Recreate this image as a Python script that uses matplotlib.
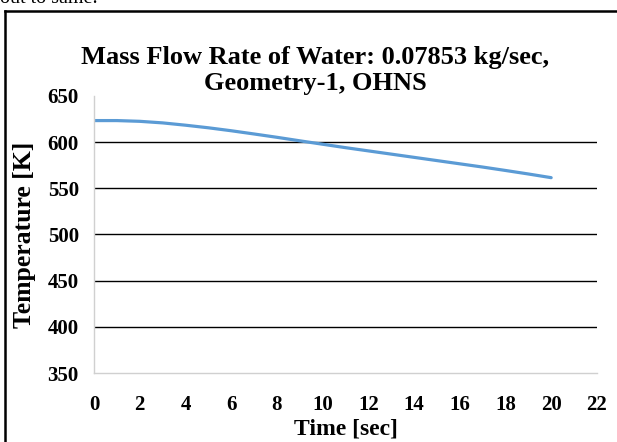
import matplotlib
matplotlib.use("Agg")
import matplotlib.pyplot as plt
from matplotlib.lines import Line2D

# data
time_sec = [0, 1, 2, 3, 4, 5, 6, 7, 8, 9, 10, 11, 12, 13, 14, 15, 16, 17, 18, 19, 20]
temp_k = [623.3, 623.3, 622.5, 620.8, 618.3, 615.5, 612.3, 608.8, 605.2, 601.4, 597.7,
          594.0, 590.5, 587.0, 583.5, 580.0, 576.5, 573.0, 569.3, 565.5, 561.5]
x_ticks = list(range(0, 23, 2))
y_ticks = list(range(350, 651, 50))


def main():
    plt.rcParams['font.family'] = ['Liberation Serif', 'DejaVu Serif']
    fig = plt.figure(figsize=(6.17, 4.42), dpi=100)
    ax = fig.add_axes([0.1524, 0.156, 0.815, 0.627])

    ax.plot(time_sec, temp_k, color='#5B9BD5', linewidth=2.3, solid_capstyle='round')

    ax.set_xlim(0, 22)
    ax.set_ylim(350, 650)
    ax.set_xticks(x_ticks)
    ax.set_yticks(y_ticks)
    for y in y_ticks[1:-1]:
        ax.axhline(y, color='#000000', linewidth=1.0, zorder=0)

    for s in ['top', 'right']:
        ax.spines[s].set_visible(False)
    for s in ['left', 'bottom']:
        ax.spines[s].set_color('#D0D0D0')
        ax.spines[s].set_linewidth(1.0)
    ax.tick_params(axis='x', length=0, pad=16, labelsize=15)
    ax.tick_params(axis='y', length=0, pad=11, labelsize=15)
    for lab in ax.get_xticklabels() + ax.get_yticklabels():
        lab.set_fontweight('bold')

    ax.set_xlabel("Time [sec]", fontsize=17, fontweight='bold', labelpad=2)
    ax.set_ylabel("Temperature [K]", fontsize=18.5, fontweight='bold', labelpad=8)
    fig.text(0.511, 0.796, "Mass Flow Rate of Water: 0.07853 kg/sec,\nGeometry-1, OHNS",
             ha='center', va='baseline', fontsize=19, fontweight='bold', linespacing=1.2)

    # frame around the chart (only top and left edges fall inside the crop)
    fig.add_artist(Line2D([0.0081, 1.0], [0.975, 0.975], transform=fig.transFigure,
                          color='black', linewidth=1.8))
    fig.add_artist(Line2D([0.0081, 0.0081], [0.0, 0.975], transform=fig.transFigure,
                          color='black', linewidth=1.8))
    fig.text(0.0, 0.993, "out to same.", ha='left', va='baseline', fontsize=14.5)

    fig.savefig("out.png", dpi=100)


if __name__ == '__main__':
    main()
